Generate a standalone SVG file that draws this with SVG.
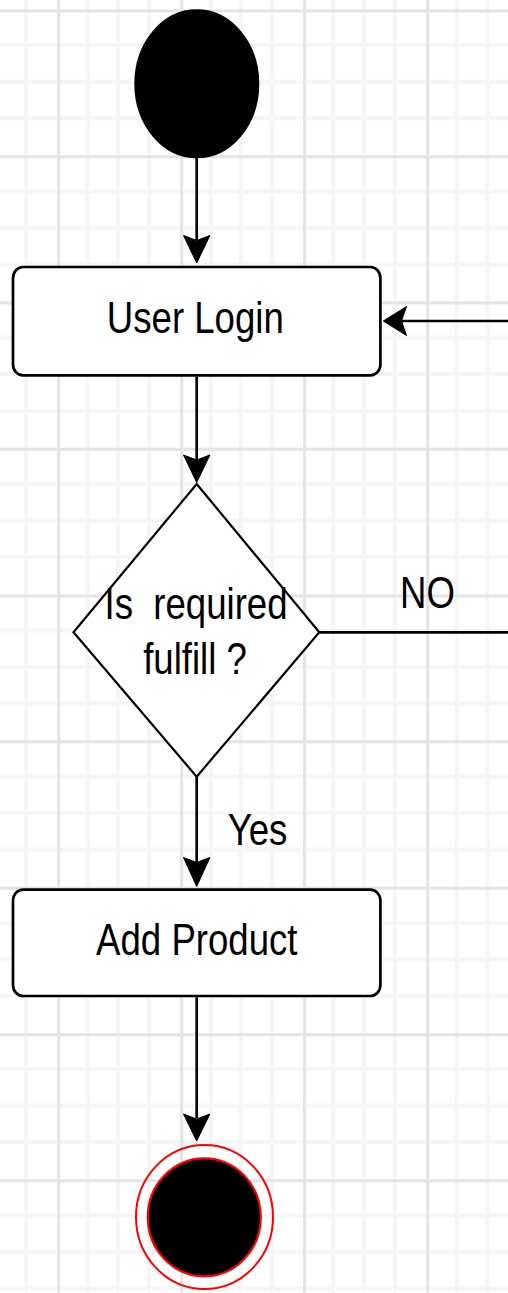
<svg xmlns="http://www.w3.org/2000/svg" width="508" height="1293" viewBox="0 0 508 1293">
<style>
.gmaj{stroke:#e4e4e4;stroke-width:3;fill:none}
.gmin{stroke:#f6f6f6;stroke-width:4;fill:none}
.edge{stroke:#000;stroke-width:2.7;fill:none}
.head{fill:#000;stroke:#000;stroke-width:1}
.box{fill:#fff;stroke:#000;stroke-width:2.7}
.lbl{font-family:"Liberation Sans",Arial,sans-serif;font-size:36.6px;fill:#000;text-anchor:middle;white-space:pre}
</style>
<rect x="0" y="0" width="508" height="1293" fill="#fff"/>
<g id="grid">
<path class="gmin" d="M26 0V1293M87.7 0V1293M118 0V1293M149 0V1293M211 0V1293M241 0V1293M272 0V1293M333.3 0V1293M364 0V1293M395 0V1293M456.7 0V1293M487.5 0V1293"/>
<path class="gmin" d="M0 45H508M0 81.7H508M0 118.3H508M0 191.7H508M0 228.3H508M0 264.5H508M0 337.5H508M0 374H508M0 411H508M0 484H508M0 520.5H508M0 557H508M0 630.5H508M0 667H508M0 703.5H508M0 776.5H508M0 813H508M0 849.5H508M0 923H508M0 959.5H508M0 996H508M0 1069H508M0 1105.5H508M0 1142H508M0 1215.5H508M0 1252H508M0 1288.5H508"/>
<path class="gmaj" d="M58.7 0V1293M181.7 0V1293M304.5 0V1293M427.7 0V1293"/>
<path class="gmaj" d="M0 11H508M0 156.7H508M0 302.9H508M0 449.3H508M0 596H508M0 741.8H508M0 888.3H508M0 1034.7H508M0 1180.8H508"/>
</g>
<g id="connectors">
<path class="edge" d="M196.7 158V240"/>
<polygon class="head" points="196.7,263 183.5,235.5 196.7,240.5 209.9,235.5"/>
<path class="edge" d="M196.7 376.7V460"/>
<polygon class="head" points="196.7,482.5 183.5,455 196.7,460 209.9,455"/>
<path class="edge" d="M196.7 776.7V862"/>
<polygon class="head" points="196.7,886.5 183.5,857.5 196.7,862.5 209.9,857.5"/>
<path class="edge" d="M196.7 997.3V1118"/>
<polygon class="head" points="196.7,1141 183.5,1114 196.7,1119 209.9,1114"/>
<path class="edge" d="M319.3 632.3H508"/>
<path class="edge" d="M508 321H402"/>
<polygon class="head" points="383.3,321 406.5,306.5 401.5,321 406.5,335.5"/>
<text class="lbl" transform="translate(427.5,607.7) scale(1,1.19)">NO</text>
<text class="lbl" transform="translate(257.5,845) scale(1,1.19)">Yes</text>
</g>
<g id="start">
<ellipse cx="196.8" cy="83.8" rx="61.5" ry="73.5" fill="#000" stroke="#000" stroke-width="2"/>
</g>
<g id="user-login">
<rect class="box" x="13" y="267" width="367.4" height="108.4" rx="10" ry="11"/>
<text class="lbl" transform="translate(195.3,332.7) scale(1,1.19)">User Login</text>
</g>
<g id="decision">
<polygon points="196.7,484 319.3,632.3 196.7,776.7 73.5,632.3" fill="#fff" stroke="#000" stroke-width="2.2"/>
<text class="lbl" transform="translate(196,619) scale(1,1.19)">Is  required</text>
<text class="lbl" transform="translate(195,674.3) scale(1,1.19)">fulfill ?</text>
</g>
<g id="add-product">
<rect class="box" x="13" y="889.6" width="367.4" height="106.4" rx="10" ry="11"/>
<text class="lbl" transform="translate(196.8,955) scale(1,1.19)">Add Product</text>
</g>
<g id="end">
<ellipse cx="204.5" cy="1217" rx="68.5" ry="72" fill="none" stroke="#ff0000" stroke-width="2"/>
<ellipse cx="204.3" cy="1217.3" rx="56.5" ry="59" fill="#000" stroke="#ff0000" stroke-width="2.2"/>
</g>
</svg>
